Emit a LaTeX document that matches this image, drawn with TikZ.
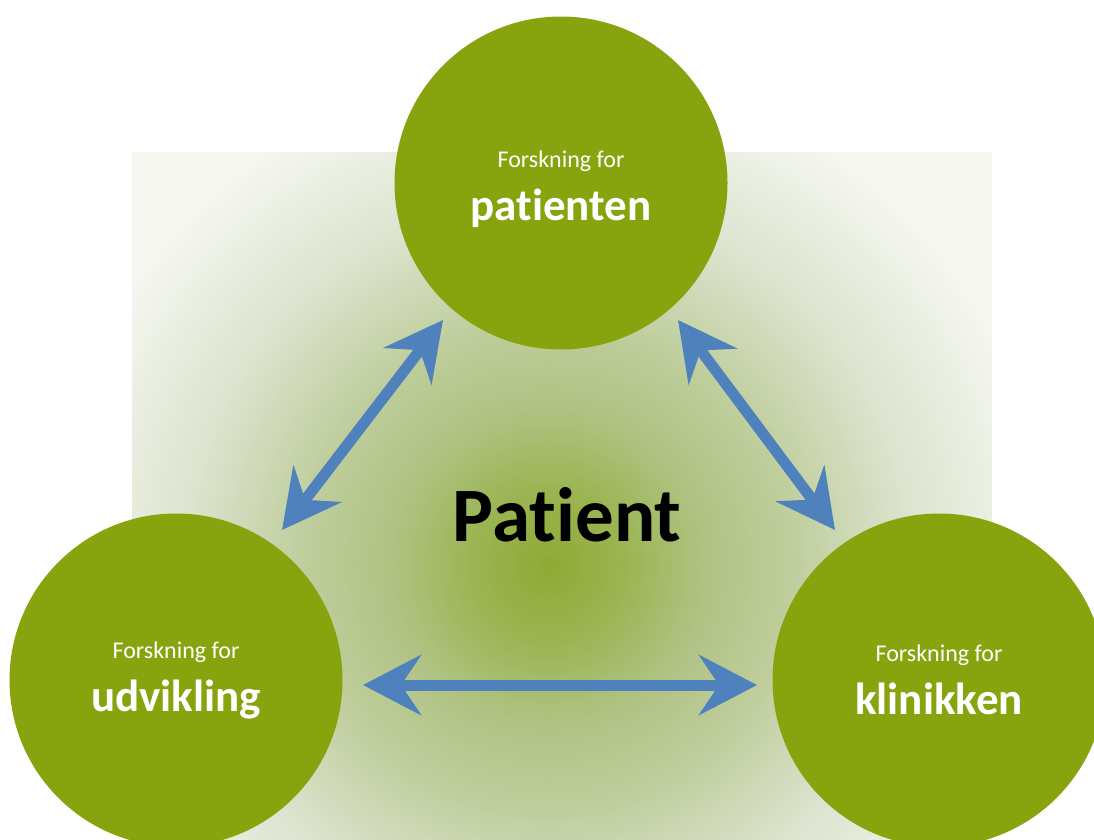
\documentclass[tikz,border=0pt]{standalone}
\usepackage{fontspec}
\setmainfont{Carlito}[Ligatures={NoCommon,NoContextual}]
\usetikzlibrary{arrows.meta,calc}
\definecolor{leafgreen}{RGB}{135,163,14}
\definecolor{arrowblue}{RGB}{79,129,189}
\definecolor{glowa}{RGB}{142,170,52}
\definecolor{glowb}{RGB}{156,181,84}
\definecolor{glowc}{RGB}{176,195,132}
\definecolor{glowd}{RGB}{190,205,155}
\definecolor{glowe}{RGB}{220,227,206}
\definecolor{glowf}{RGB}{245,247,240}
\pgfdeclareradialshading{patientglow}{\pgfpointorigin}{color(0bp)=(glowa);color(4bp)=(glowb);color(8bp)=(glowc);color(12bp)=(glowd);color(18bp)=(glowe);color(25bp)=(glowf);color(50bp)=(glowf)}
\tikzstyle{topic}=[circle,fill=leafgreen,minimum size=333pt,inner sep=0pt,text=white,align=center,font=\fontsize{45pt}{53pt}\selectfont]
\tikzstyle{link}=[draw=arrowblue,line width=11pt,{Stealth[length=58pt,width=60pt,inset=20pt]}-{Stealth[length=58pt,width=60pt,inset=20pt]}]
\newcommand{\topic}[4]{\node[topic,#4] (#1) at (#2) {{\fontsize{24pt}{28pt}\selectfont Forskning for}\\\textbf{#3}};}
\newcommand{\twoway}[2]{\draw[link] (#1) -- (#2);}

\begin{document}
\begin{tikzpicture}[x=1pt,y=-1pt]
    \useasboundingbox (0,0) rectangle (1094,839);
    % soft glow behind everything
    \begin{scope}
        \clip (132,152) rectangle (992,839);
        \shade[shading=patientglow] (48,65) rectangle (1048,1065);
    \end{scope}

    % the three circles
    \topic{patienten}{561,183}{patienten}{text height=74pt,text depth=0pt}
    \topic{udvikling}{176,680}{udvikling}{}
    \topic{klinikken}{939,680}{klinikken}{}

    \node[anchor=base,font=\fontsize{77pt}{80pt}\selectfont\bfseries] (patient) at (567,541) {Patient};

    % arrow ends, a little off the circles
    \coordinate (pl) at ($(patienten)+(-118,137)$);
    \coordinate (up) at ($(udvikling)+(106,-150)$);
    \coordinate (pr) at ($(patienten)+(117,137)$);
    \coordinate (kp) at ($(klinikken)+(-104,-150)$);
    \coordinate (uk) at ($(udvikling)+(187,5)$);
    \coordinate (ku) at ($(klinikken)+(-182,5)$);

    \twoway{pl}{up}
    \twoway{pr}{kp}
    \twoway{uk}{ku}
\end{tikzpicture}
\end{document}
